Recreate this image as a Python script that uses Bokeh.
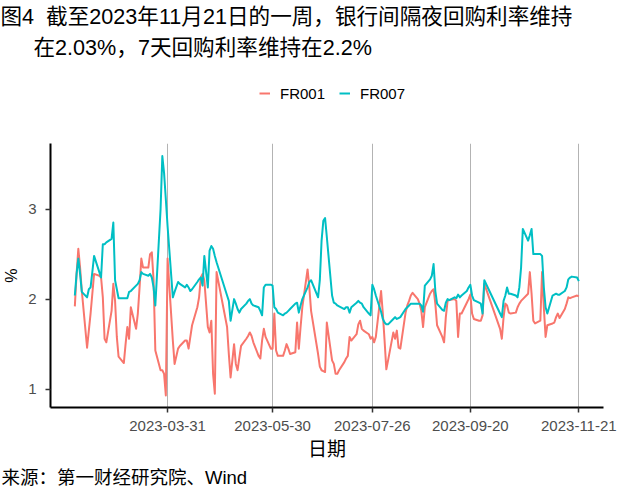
from datetime import datetime, timedelta
from bokeh.plotting import figure
from bokeh.layouts import column
from bokeh.models import (Range1d, FixedTicker, DatetimeTickFormatter, Title,
                          Legend, LegendItem, ColumnDataSource)
from bokeh.embed import file_html
from bokeh.resources import INLINE

YEAR = 2023
# interbank working days (day of month) for each month shown
days_feb = [6, 7, 8, 9, 10, 13, 14, 15, 16, 17, 20, 21, 22, 23, 24, 27, 28]
days_mar = [1, 2, 3, 6, 7, 8, 9, 10, 13, 14, 15, 16, 17, 20, 21, 22, 23, 24, 27, 28, 29, 30, 31]
days_apr = [3, 4, 6, 7, 10, 11, 12, 13, 14, 17, 18, 19, 20, 21, 23, 24, 25, 26, 27, 28]
days_may = [4, 5, 6, 8, 9, 10, 11, 12, 15, 16, 17, 18, 19, 22, 23, 24, 25, 26, 29, 30, 31]
days_jun = [1, 2, 5, 6, 7, 8, 9, 12, 13, 14, 15, 16, 19, 20, 21, 25, 26, 27, 28, 29, 30]
days_jul = [3, 4, 5, 6, 7, 10, 11, 12, 13, 14, 17, 18, 19, 20, 21, 24, 25, 26, 27, 28, 31]
days_aug = [1, 2, 3, 4, 7, 8, 9, 10, 11, 14, 15, 16, 17, 18, 21, 22, 23, 24, 25, 28, 29, 30, 31]
days_sep = [1, 4, 5, 6, 7, 8, 11, 12, 13, 14, 15, 18, 19, 20, 21, 22, 25, 26, 27, 28]
days_oct = [7, 8, 9, 10, 11, 12, 13, 16, 17, 18, 19, 20, 23, 24, 25, 26, 27, 30, 31]
days_nov = [1, 2, 3, 6, 7, 8, 9, 10, 13, 14, 15, 16, 17, 20, 21]

# FR001 (%)
fr001_feb = [1.92, 2.28, 2.56, 2.35, 2.09, 1.46, 1.65, 1.84, 2.06, 2.28, 2.26, 2.24, 2.02, 1.56, 1.52, 1.87, 2.17]
fr001_mar = [1.98, 1.58, 1.36, 1.29, 1.50, 1.69, 1.56, 1.91, 1.67, 1.84, 2.13, 2.45, 2.35, 2.35, 2.50, 2.52,
             2.21, 1.43, 1.21, 1.21, 1.17, 0.93, 2.45]
fr001_apr = [1.54, 1.28, 1.45, 1.48, 1.54, 1.54, 1.45, 1.58, 1.71, 1.91, 2.02, 2.24, 2.28, 2.21, 1.69, 1.63,
             1.76, 1.17, 0.95, 2.30]
fr001_may = [1.69, 1.39, 1.13, 1.50, 1.28, 1.21, 1.35, 1.48, 1.56, 1.59, 1.63, 1.59, 1.52, 1.37, 1.34, 1.54,
             1.67, 1.58, 1.45, 1.45, 1.84]
fr001_jun = [1.43, 1.37, 1.37, 1.43, 1.50, 1.45, 1.39, 1.41, 1.74, 1.45, 1.69, 1.91, 2.33, 2.13, 1.87, 1.39,
             1.25, 1.21, 1.20, 1.19, 1.74]
fr001_jul = [1.32, 1.28, 1.17, 1.17, 1.21, 1.30, 1.34, 1.37, 1.58, 1.54, 1.61, 1.72, 1.76, 1.67, 1.65, 1.61,
             1.56, 1.58, 1.52, 1.58, 2.09]
fr001_aug = [1.84, 1.54, 1.22, 1.32, 1.63, 1.56, 1.65, 1.46, 1.45, 1.85, 1.93, 1.98, 2.04, 2.07, 2.00, 1.95,
             1.87, 1.69, 1.91, 2.06, 2.09, 2.11, 1.95]
fr001_sep = [1.71, 1.58, 1.52, 1.80, 1.98, 1.99, 2.00, 1.98, 1.58, 1.84, 1.84, 1.96, 2.00, 2.05, 1.84, 1.78,
             1.76, 1.76, 1.82, 2.17]
fr001_oct = [1.67, 1.56, 1.80, 1.95, 1.93, 1.85, 1.84, 1.85, 1.91, 1.95, 1.98, 2.00, 2.06, 2.30, 2.06, 1.76,
             1.73, 1.76, 2.30]
fr001_nov = [1.91, 1.58, 1.71, 1.73, 1.74, 1.80, 1.84, 1.79, 1.89, 1.95, 2.02, 2.01, 2.02, 2.04, 2.03]

# FR007 (%)
fr007_feb = [2.04, 2.28, 2.45, 2.28, 2.08, 2.02, 2.11, 2.13, 2.30, 2.48, 2.30, 2.24, 2.61, 2.61, 2.63, 2.67, 2.85]
fr007_mar = [2.21, 2.11, 2.01, 2.01, 2.01, 2.01, 2.08, 2.09, 2.15, 2.17, 2.21, 2.30, 2.28, 2.26, 2.28, 2.24,
             2.13, 1.93, 3.00, 3.59, 3.40, 3.11, 2.81]
fr007_apr = [2.02, 2.08, 2.19, 2.17, 2.13, 2.16, 2.13, 2.09, 2.11, 2.19, 2.22, 2.24, 2.15, 2.48, 2.13, 2.54,
             2.59, 2.56, 2.48, 2.41]
fr007_may = [2.04, 1.98, 1.76, 2.00, 1.95, 1.89, 1.85, 1.89, 1.95, 1.98, 2.00, 1.95, 1.93, 1.91, 1.87, 1.82,
             2.13, 2.16, 2.16, 2.15, 1.91]
fr007_jun = [1.89, 1.85, 1.82, 1.84, 1.85, 1.87, 1.89, 1.95, 1.96, 1.85, 1.93, 2.00, 2.13, 2.19, 2.21, 2.02,
             2.21, 2.65, 2.87, 2.90, 2.69]
fr007_jul = [2.04, 1.96, 1.95, 1.93, 1.92, 1.89, 1.91, 1.91, 1.85, 1.91, 1.96, 1.98, 1.96, 1.95, 1.91, 1.84,
             1.82, 2.16, 2.11, 2.04, 1.86]
fr007_aug = [1.78, 1.74, 1.72, 1.72, 1.78, 1.80, 1.78, 1.79, 1.80, 1.89, 1.91, 1.93, 1.95, 1.95, 1.95, 1.95,
             1.93, 1.86, 2.15, 2.22, 2.26, 2.39, 2.09]
fr007_sep = [1.95, 1.88, 1.87, 1.96, 2.00, 1.99, 2.02, 2.01, 2.05, 2.02, 2.04, 2.09, 2.13, 2.16, 2.04, 1.99,
             1.96, 1.95, 1.84, 2.21]
fr007_oct = [1.84, 1.80, 1.98, 2.04, 2.13, 2.06, 2.06, 2.04, 2.02, 2.13, 2.35, 2.78, 2.65, 2.71, 2.78, 2.50,
             2.50, 2.50, 2.48]
fr007_nov = [2.13, 1.91, 1.84, 2.04, 2.05, 2.06, 2.05, 2.05, 2.09, 2.13, 2.22, 2.24, 2.25, 2.24, 2.20]

tick_labels = ["2023-03-31", "2023-05-30", "2023-07-26", "2023-09-20", "2023-11-21"]
y_ticks = [1, 2, 3]
series_names = ["FR001", "FR007"]
colors = ["#F8766D", "#00BFC4"]

title_line1 = "图4\u00a0\u00a0截至2023年11月21日的一周，银行间隔夜回购利率维持"
title_line2 = "在2.03%，7天回购利率维持在2.2%"
source_text = "来源：第一财经研究院、Wind"
x_label = "日期"
y_label = "%"

months = [(2, days_feb, fr001_feb, fr007_feb), (3, days_mar, fr001_mar, fr007_mar),
          (4, days_apr, fr001_apr, fr007_apr), (5, days_may, fr001_may, fr007_may),
          (6, days_jun, fr001_jun, fr007_jun), (7, days_jul, fr001_jul, fr007_jul),
          (8, days_aug, fr001_aug, fr007_aug), (9, days_sep, fr001_sep, fr007_sep),
          (10, days_oct, fr001_oct, fr007_oct), (11, days_nov, fr001_nov, fr007_nov)]

dates, v001, v007 = [], [], []
for m, ds, a, b in months:
    assert len(ds) == len(a) == len(b), (m, len(ds), len(a), len(b))
    dates += [datetime(YEAR, m, d) for d in ds]
    v001 += a
    v007 += b

source = ColumnDataSource(dict(date=dates, fr001=v001, fr007=v007))

epoch = datetime(1970, 1, 1)
def to_ms(dt):
    return (dt - epoch).total_seconds() * 1000.0

tick_dates = [datetime.strptime(s, "%Y-%m-%d") for s in tick_labels]
x_start = tick_dates[0] - timedelta(days=66.9)
x_end = tick_dates[0] + timedelta(days=249.1)

W = 640
LEFT, RIGHT = 48, 37
HEAD_H, MAIN_H = 143, 355
TEXT_FONT = "Liberation Sans, Noto Sans CJK SC"
XSHIFT = 5  # title text starts a few px right of its nominal offset

# ---------- header: title lines (above panels) + legend (in frame) ----------
head = figure(width=W, height=HEAD_H, x_range=Range1d(0, 1), y_range=Range1d(0, 1),
              x_axis_location=None, y_axis_location=None,
              output_backend="svg", toolbar_location=None,
              min_border_left=LEFT, min_border_right=RIGHT, min_border_top=0, min_border_bottom=0)
head.outline_line_color = None
head.grid.visible = False
head.background_fill_color = "white"
head.border_fill_color = "white"

t1 = Title(text=title_line1, align="left", offset=3 - LEFT - XSHIFT, vertical_align="bottom", standoff=3,
           text_font=TEXT_FONT, text_font_size="21.6px", text_font_style="normal", text_color="black")
t2 = Title(text=title_line2, align="left", offset=36 - LEFT - XSHIFT, vertical_align="bottom", standoff=4,
           text_font=TEXT_FONT, text_font_size="21.6px", text_font_style="normal", text_color="black")
head.add_layout(t2, "above")
head.add_layout(t1, "above")

k1 = head.line(x=[-10, -9], y=[-10, -10], line_color=colors[0], line_width=2)
k7 = head.line(x=[-10, -9], y=[-10, -10], line_color=colors[1], line_width=2)
legend = Legend(items=[LegendItem(label=series_names[0], renderers=[k1]),
                       LegendItem(label=series_names[1], renderers=[k7])],
                location=(257 - LEFT, HEAD_H - 103), orientation="horizontal",
                border_line_color=None, background_fill_alpha=0, padding=0, margin=0,
                spacing=14, glyph_width=11, glyph_height=20, label_height=20,
                label_standoff=10, label_text_font="Liberation Sans",
                label_text_font_size="15px", label_text_color="black")
head.add_layout(legend)

# ---------- main chart ----------
p = figure(width=W, height=MAIN_H, x_axis_type="datetime",
           x_range=Range1d(to_ms(x_start), to_ms(x_end)),
           y_range=Range1d(0.796, 3.729),
           output_backend="svg", toolbar_location=None,
           min_border_left=LEFT, min_border_right=RIGHT, min_border_top=0, min_border_bottom=91)
p.outline_line_color = None
p.background_fill_color = "white"
p.border_fill_color = "white"

r1 = p.line("date", "fr001", source=source, line_color=colors[0], line_width=2, line_join="round")
r7 = p.line("date", "fr007", source=source, line_color=colors[1], line_width=2, line_join="round")

fmt = "%Y-%m-%d"
p.xaxis.ticker = FixedTicker(ticks=[to_ms(d) for d in tick_dates])
p.xaxis.formatter = DatetimeTickFormatter(microseconds=fmt, milliseconds=fmt, seconds=fmt, minsec=fmt,
                                          minutes=fmt, hourmin=fmt, hours=fmt, days=fmt,
                                          months=fmt, years=fmt)
p.yaxis.ticker = FixedTicker(ticks=y_ticks)

for ax in (p.xaxis[0], p.yaxis[0]):
    ax.axis_line_color = "black"
    ax.axis_line_width = 2
    ax.major_tick_line_color = "#333333"
    ax.major_tick_line_width = 1.5
    ax.major_tick_in = 0
    ax.major_tick_out = 5
    ax.minor_tick_line_color = None
    ax.major_label_text_font = "Liberation Sans"
    ax.major_label_text_font_size = "15px"
    ax.major_label_text_color = "#4D4D4D"
    ax.axis_label_text_font_style = "normal"
    ax.axis_label_text_color = "black"

p.xaxis.major_label_standoff = 8
p.xaxis.axis_label = x_label
p.xaxis.axis_label_text_font = "Noto Sans CJK SC"
p.xaxis.axis_label_text_font_size = "19px"
p.xaxis.axis_label_standoff = 0

p.yaxis.major_label_standoff = 9
p.yaxis.axis_label = y_label
p.yaxis.axis_label_text_font = "Liberation Sans"
p.yaxis.axis_label_text_font_size = "16px"
p.yaxis.axis_label_standoff = 5

p.xgrid.ticker = p.xaxis.ticker
p.xgrid.grid_line_color = "#B3B3B3"
p.xgrid.grid_line_width = 1
p.ygrid.grid_line_color = None

src = Title(text=source_text, align="left", offset=2 - LEFT - 3, vertical_align="top", standoff=7,
            text_font=TEXT_FONT, text_font_size="18.5px", text_font_style="normal", text_color="black")
p.add_layout(src, "below")

page = column(head, p, spacing=0)
open("out.html", "w").write(file_html(page, INLINE))
